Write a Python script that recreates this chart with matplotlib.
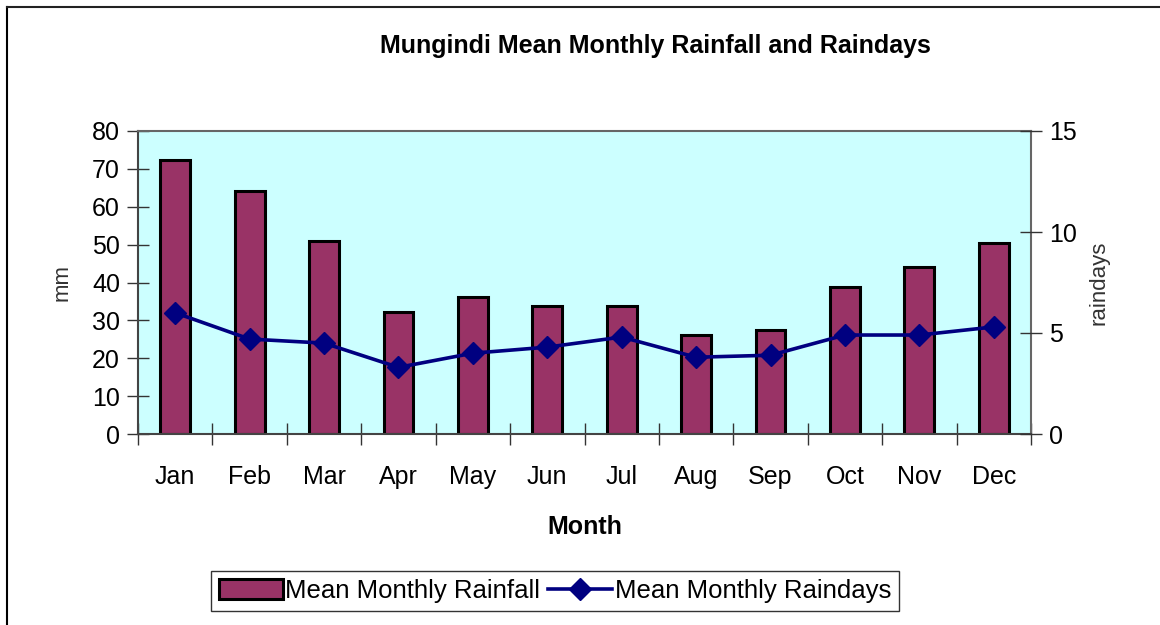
import matplotlib
matplotlib.use("Agg")
import matplotlib.pyplot as plt
from matplotlib.lines import Line2D
import numpy as np

plt.rcParams['font.family'] = ['Liberation Sans', 'DejaVu Sans']

months = ["Jan", "Feb", "Mar", "Apr", "May", "Jun", "Jul", "Aug", "Sep", "Oct", "Nov", "Dec"]
rainfall_mm = [72.3, 64.2, 51.0, 32.2, 36.1, 33.8, 33.9, 26.2, 27.5, 38.8, 44.0, 50.3]
raindays = [6.0, 4.7, 4.5, 3.3, 4.0, 4.3, 4.8, 3.8, 3.9, 4.9, 4.9, 5.3]

bar_color = "#993366"
line_color = "#000080"
plot_bg = "#CCFFFF"
fs = 18

fig = plt.figure(figsize=(11.6, 6.25), dpi=100)
ax = fig.add_axes([138 / 1160, 1 - 434 / 625, (1031 - 138) / 1160, (434 - 131) / 625])
ax.set_facecolor(plot_bg)

x = np.arange(len(months))
bars = ax.bar(x, rainfall_mm, width=0.4, color=bar_color, edgecolor="black",
              linewidth=2.2, zorder=2, label="Mean Monthly Rainfall")

ax.set_xlim(-0.5, len(months) - 0.5)
ax.set_ylim(0, 80)
ax.set_yticks(np.arange(0, 81, 10))
ax.set_xticks(x)
ax.set_xticklabels(months, fontsize=fs)
ax.set_xticks(np.arange(-0.5, len(months), 1.0), minor=True)
ax.tick_params(axis="x", which="major", length=0, pad=22)
ax.tick_params(axis="x", which="minor", direction="inout", length=16, width=1, color="#333333")
ax.tick_params(axis="y", direction="inout", length=16, width=1, color="#333333", labelsize=fs, pad=5)
ax.set_xlabel("Month", fontsize=fs, fontweight="bold", labelpad=19)
ax.set_ylabel("mm", fontsize=16, color="#333333", labelpad=14)

for side in ["left", "bottom", "right", "top"]:
    ax.spines[side].set_color("#666666")
    ax.spines[side].set_linewidth(1.5)
ax.spines["left"].set_color("#444444")
ax.spines["bottom"].set_color("#444444")

ax2 = ax.twinx()
ax2.plot(x, raindays, color=line_color, linewidth=2.6, marker="D", markersize=11,
         zorder=3, label="Mean Monthly Raindays")
ax2.set_ylim(0, 15)
ax2.set_yticks([0, 5, 10, 15])
ax2.tick_params(axis="y", direction="inout", length=16, width=1, color="#333333", labelsize=fs, pad=5)
ax2.set_ylabel("raindays", fontsize=16, color="#333333", rotation=90, labelpad=8)
for side in ["left", "bottom", "right", "top"]:
    ax2.spines[side].set_visible(False)

fig.text(655 / 1160, 1 - 46 / 625, "Mungindi Mean Monthly Rainfall and Raindays",
         ha="center", va="center", fontsize=fs, fontweight="bold")

handles = [bars, Line2D([], [], color=line_color, linewidth=2.6, marker="D", markersize=11)]
labels = ["Mean Monthly Rainfall", "Mean Monthly Raindays"]
leg = fig.legend(handles, labels, loc="center", bbox_to_anchor=(555 / 1160, 1 - 591 / 625),
                 ncol=2, fontsize=18.5, frameon=True, fancybox=False, edgecolor="black",
                 handlelength=2.5, handleheight=0.85, handletextpad=0.1, columnspacing=0.3,
                 borderpad=0.3, borderaxespad=0)
leg.get_frame().set_linewidth(1.0)

# outer chart border (left and top edges)
fig.add_artist(Line2D([7 / 1160, 7 / 1160], [0, 1 - 7 / 625], color="black", linewidth=1.5,
                      transform=fig.transFigure))
fig.add_artist(Line2D([7 / 1160, 1], [1 - 7 / 625, 1 - 7 / 625], color="#222222", linewidth=1.5,
                      transform=fig.transFigure))

fig.savefig("out.png", dpi=100)
